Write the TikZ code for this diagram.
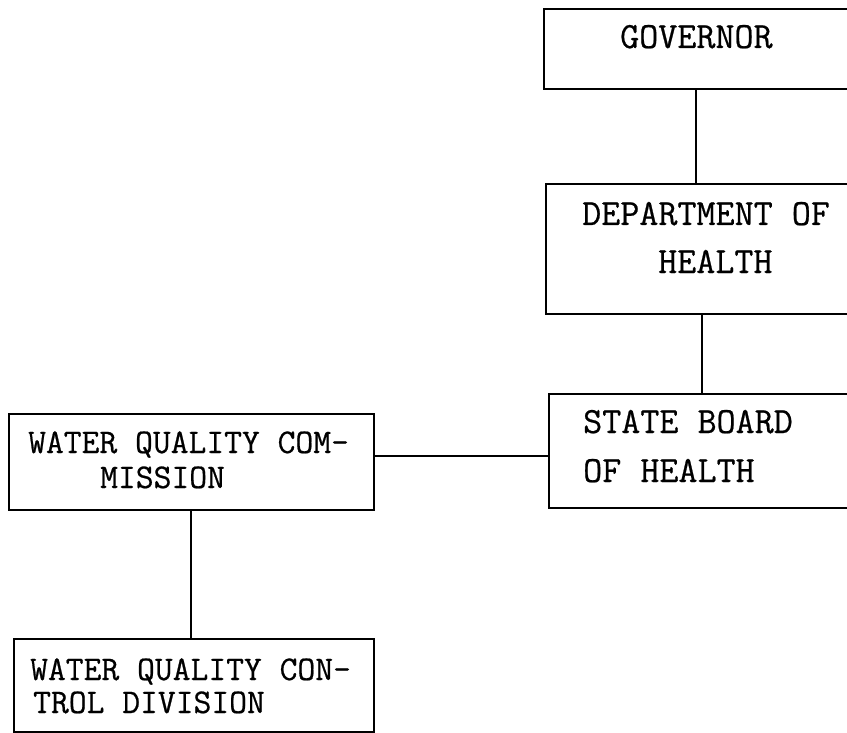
\documentclass[tikz,border=0pt]{standalone}
\usepackage{fontspec}
\newfontfamily\twfont{Latin Modern Mono}[FakeBold=0.6]
\begin{document}
\begin{tikzpicture}[x=1pt,y=-1pt,
  box/.style={draw,line width=1.6pt,rectangle,inner sep=0pt,anchor=north west},
  lbl/.style={inner sep=0pt,anchor=base west,font=\twfont\fontsize{37}{40}\selectfont},
  small/.style={font=\twfont\fontsize{34.6}{38}\selectfont},
  conn/.style={line width=1.6pt}]
\useasboundingbox (0,0) rectangle (847,733);
% boxes
\node[box,minimum width=309pt,minimum height=80pt] (gov) at (543,8) {};
\node[box,minimum width=307pt,minimum height=130pt] (dept) at (545,183) {};
\node[box,minimum width=304pt,minimum height=114pt] (sbh) at (548,393) {};
\node[box,minimum width=365pt,minimum height=96pt] (wqc) at (8,413) {};
\node[box,minimum width=360pt,minimum height=93pt] (wqcd) at (13,638) {};
% texts
\node[lbl] (govt) at (620,48) {GOVERNOR};
\node[lbl] (dept1) at (582,225) {DEPARTMENT OF};
\node[lbl] (dept2) at (658,273) {HEALTH};
\node[lbl] (sbh1) at (583,433) {STATE BOARD};
\node[lbl] (sbh2) at (583,482) {OF HEALTH};
\node[lbl,small] (wqc1) at (28,453) {WATER QUALITY COM-};
\node[lbl,small] (wqc2) at (100,488) {MISSION};
\node[lbl,small] (wqcd1) at (30,680) {WATER QUALITY CON-};
\node[lbl,small] (wqcd2) at (33,713) {TROL DIVISION};
% connectors
\coordinate (c1) at (696,0);
\coordinate (c2) at (702,0);
\coordinate (c3) at (0,456);
\coordinate (c4) at (191,0);
\draw[conn] (gov.south -| c1) -- (dept.north -| c1);
\draw[conn] (dept.south -| c2) -- (sbh.north -| c2);
\draw[conn] (wqc.east |- c3) -- (sbh.west |- c3);
\draw[conn] (wqc.south -| c4) -- (wqcd.north -| c4);
\end{tikzpicture}
\end{document}
